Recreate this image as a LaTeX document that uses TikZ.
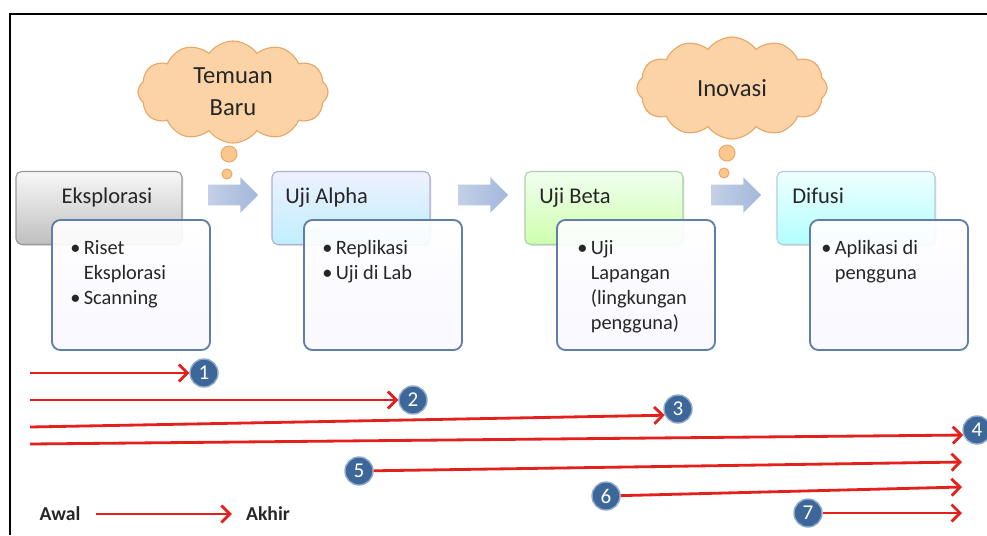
\documentclass[tikz,border=0pt]{standalone}
\usepackage{fontspec}
\setmainfont{Carlito}
\usetikzlibrary{shapes.symbols}
\usetikzlibrary{shapes.arrows}
\usetikzlibrary{arrows.meta}
\usetikzlibrary{shadows}

\definecolor{arrred}{HTML}{E3201C}
\definecolor{numfill}{HTML}{3D6699}
\definecolor{numline}{HTML}{8FA9CC}
\definecolor{detline}{HTML}{5F7FA8}
\definecolor{blockfill}{HTML}{A3B7DA}
\definecolor{cloudfill}{HTML}{FBD3A6}
\definecolor{cloudline}{HTML}{E7A867}
\definecolor{inktext}{HTML}{262626}

\begin{document}
\begin{tikzpicture}[x=0.025cm,y=-0.025cm,
  hdr/.style n args={3}{rectangle,rounded corners=4pt,draw=#1,line width=0.8pt,
    top color=#2,bottom color=#3,minimum width=3.95cm,minimum height=1.825cm,
    drop shadow={shadow xshift=1pt,shadow yshift=-1pt,opacity=0.25}},
  det/.style={rectangle,rounded corners=6pt,draw=detline,line width=1.3pt,
    top color=white,bottom color=blue!3,fill opacity=0.92,minimum width=3.95cm,minimum height=3.25cm},
  hdrtxt/.style={inner sep=0pt,text=inktext,font=\fontsize{16}{19}\selectfont},
  itm/.style={anchor=north west,inner sep=0pt,text=inktext,font=\fontsize{14.5}{18}\selectfont},
  blk/.style={single arrow,inner xsep=0pt,inner ysep=0.25cm,minimum height=1.25cm,
    single arrow head extend=0.19cm,left color=blockfill!65,right color=blockfill,draw=none},
  thought/.style={cloud,cloud puffs=12,cloud puff arc=110,aspect=1.9,draw=cloudline,
    line width=0.8pt,fill=cloudfill,text=inktext,align=center,
    font=\fontsize{17.5}{23}\selectfont,minimum width=4.75cm,minimum height=2.55cm},
  bub/.style={circle,draw=cloudline,line width=0.7pt,fill=cloudfill!85!orange,inner sep=0pt},
  num/.style={circle,fill=numfill,draw=numline,line width=1pt,text=white,
    minimum size=0.7cm,inner sep=0pt,font=\fontsize{15}{15}\selectfont},
  redarr/.style={draw=arrred,line width=2pt,-{Straight Barb[length=6pt,width=12pt]}},
  legend/.style={text=inktext,font=\bfseries\fontsize{14}{16}\selectfont,inner ysep=2pt}]

\useasboundingbox (0,0) rectangle (987,535);
\draw[line width=1.4pt] (10,535) -- (10,14) -- (987,14);

\node[blk] (blk1) at (228,195) {};
\node[blk] (blk2) at (478,195) {};
\node[blk] (blk3) at (731,195) {};

\node[hdr={gray!80}{gray!6}{gray!50},minimum width=4.15cm] (eksp) at (99,208) {};
\node[hdr={blue!25!gray!50}{blue!6}{blue!25!cyan!25}] (alpha) at (351,208) {};
\node[hdr={green!30!gray!50}{yellow!10!green!6}{yellow!40!green!32}] (beta) at (604,208) {};
\node[hdr={cyan!40!gray!50}{cyan!6}{cyan!30}] (difusi) at (856,208) {};

\node[hdrtxt,anchor=base] at (107,203) {Eksplorasi};
\node[hdrtxt,anchor=base west] at (285,203) {Uji Alpha};
\node[hdrtxt,anchor=base west] at (539,203) {Uji Beta};
\node[hdrtxt,anchor=base west] at (792,203) {Difusi};

\node[det] (det1) at (131,285) {};
\node[det] (det2) at (383,285) {};
\node[det] (det3) at (636,285) {};
\node[det] (det4) at (889,285) {};

\node[itm] (itm1) at (70,236) {\begin{tabular}{@{}l@{\,}l@{}}\textbullet & Riset\\ & Eksplorasi\\ \textbullet & Scanning\end{tabular}};
\node[itm] (itm2) at (322,236) {\begin{tabular}{@{}l@{\,}l@{}}\textbullet & Replikasi\\ \textbullet & Uji di Lab\end{tabular}};
\node[itm] (itm3) at (577,236) {\begin{tabular}{@{}l@{\,}l@{}}\textbullet & Uji\\ & Lapangan\\ & (lingkungan\\ & pengguna)\end{tabular}};
\node[itm] (itm4) at (821,236) {\begin{tabular}{@{}l@{\,}l@{}}\textbullet & Aplikasi di\\ & pengguna\end{tabular}};

\node[bub,minimum size=0.4cm] (bubA1) at (229,154) {};
\node[bub,minimum size=0.25cm] (bubA2) at (227,174) {};
\node[bub,minimum size=0.4cm] (bubB1) at (727,153) {};
\node[bub,minimum size=0.25cm] (bubB2) at (724,173) {};

\node[thought] (temuan) at (233,92) {Temuan\\Baru};
\node[thought] (inovasi) at (732,88) {Inovasi};

\coordinate (s1) at (30,373);
\coordinate (s2) at (30,400);
\coordinate (s3) at (30,427);
\coordinate (s4) at (30,444);
\coordinate (e5) at (962,462);
\coordinate (e6) at (962,487);
\coordinate (e7) at (962,513);

\node[num] (n1) at (204,373) {1};
\node[num] (n2) at (413,400) {2};
\node[num] (n3) at (678,409) {3};
\node[num] (n4) at (977,430) {4};
\node[num] (n5) at (359,471) {5};
\node[num] (n6) at (606,496) {6};
\node[num] (n7) at (808,513) {7};

\draw[redarr] (s1) -- (n1);
\draw[redarr] (s2) -- (n2);
\draw[redarr] (s3) -- (n3.205);
\draw[redarr] (s4) -- (n4.200);
\draw[redarr] (n5) -- (e5);
\draw[redarr] (n6) -- (e6);
\draw[redarr] (n7) -- (e7);

\node[legend,inner xsep=0.38cm] (awal) at (60,514) {Awal};
\node[legend,inner xsep=0.35cm] (akhir) at (268,514) {Akhir};
\draw[redarr] (awal) -- (akhir);

\end{tikzpicture}
\end{document}
